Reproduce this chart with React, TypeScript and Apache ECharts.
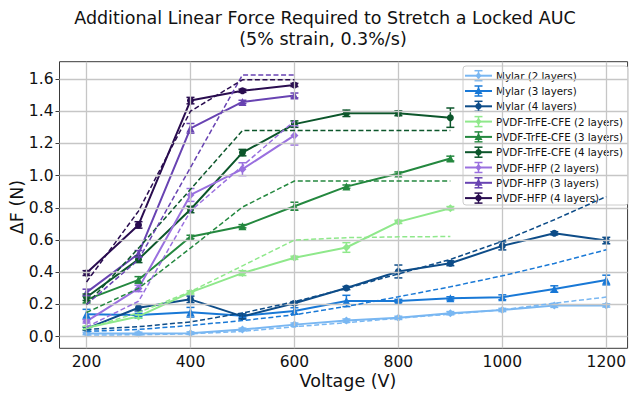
import React, { useEffect, useRef } from "react";
import * as echarts from "echarts";

const FONT = "DejaVu Sans";

const VOLTS_MYLAR = [200, 300, 400, 500, 600, 700, 800, 900, 1000, 1100, 1200];
const VOLTS_TRFE = [200, 300, 400, 500, 600, 700, 800, 900];
const VOLTS_HFP = [200, 300, 400, 500, 600];

const X_TICKS = [200, 400, 600, 800, 1000, 1200];
const Y_TICKS = [0, 0.2, 0.4, 0.6, 0.8, 1.0, 1.2, 1.4, 1.6];

// measured (solid) values, error bars, model (dashed) values
const MYLAR2 = [0.02, 0.02, 0.022, 0.045, 0.075, 0.1, 0.117, 0.146, 0.166, 0.194, 0.194];
const MYLAR2_ERR = [0.008, 0.008, 0.008, 0.008, 0.01, 0.01, 0.01, 0.01, 0.01, 0.012, 0.01];
const MYLAR2_MODEL = [0.01, 0.012, 0.018, 0.033, 0.062, 0.087, 0.115, 0.14, 0.167, 0.208, 0.246];

const MYLAR3 = [0.14, 0.135, 0.152, 0.13, 0.16, 0.222, 0.222, 0.238, 0.245, 0.296, 0.352];
const MYLAR3_ERR = [0.03, 0.01, 0.03, 0.01, 0.02, 0.035, 0.01, 0.01, 0.015, 0.02, 0.03];
const MYLAR3_MODEL = [0.033, 0.045, 0.07, 0.1, 0.136, 0.188, 0.248, 0.31, 0.378, 0.455, 0.54];

const MYLAR4 = [0.05, 0.18, 0.232, 0.126, 0.208, 0.302, 0.405, 0.456, 0.564, 0.642, 0.597];
const MYLAR4_ERR = [0.01, 0.02, 0.02, 0.015, 0.01, 0.01, 0.04, 0.015, 0.025, 0.01, 0.02];
const MYLAR4_MODEL = [0.045, 0.062, 0.092, 0.147, 0.217, 0.3, 0.39, 0.48, 0.592, 0.726, 0.87];

const TRFE2 = [0.055, 0.126, 0.275, 0.395, 0.49, 0.554, 0.713, 0.798];
const TRFE2_ERR = [0.01, 0.01, 0.01, 0.015, 0.01, 0.03, 0.01, 0.01];
const TRFE2_MODEL = [0.05, 0.15, 0.28, 0.44, 0.6, 0.615, 0.62, 0.622];

const TRFE3 = [0.23, 0.353, 0.62, 0.686, 0.81, 0.932, 1.013, 1.106];
const TRFE3_ERR = [0.02, 0.02, 0.01, 0.01, 0.025, 0.01, 0.01, 0.015];
const TRFE3_MODEL = [0.15, 0.3, 0.55, 0.805, 0.967, 0.967, 0.967, 0.967];

const TRFE4 = [0.245, 0.48, 0.79, 1.143, 1.32, 1.387, 1.387, 1.36];
const TRFE4_ERR = [0.02, 0.02, 0.02, 0.02, 0.02, 0.02, 0.015, 0.06];
const TRFE4_MODEL = [0.2, 0.55, 0.915, 1.28, 1.28, 1.28, 1.28, 1.28];

const HFP2 = [0.095, 0.3, 0.88, 1.04, 1.25];
const HFP2_ERR = [0.01, 0.02, 0.04, 0.04, 0.06];
const HFP2_MODEL = [0.06, 0.22, 0.78, 1.06, 1.34];

const HFP3 = [0.275, 0.515, 1.294, 1.458, 1.498];
const HFP3_ERR = [0.02, 0.02, 0.03, 0.01, 0.015];
const HFP3_MODEL = [0.2, 0.478, 1.05, 1.625, 1.625];

const HFP4 = [0.395, 0.694, 1.466, 1.527, 1.563];
const HFP4_ERR = [0.015, 0.02, 0.02, 0.01, 0.01];
const HFP4_MODEL = [0.34, 0.78, 1.4, 1.595, 1.595];

const NAMES = [
  "Mylar (2 layers)",
  "Mylar (3 layers)",
  "Mylar (4 layers)",
  "PVDF-TrFE-CFE (2 layers)",
  "PVDF-TrFE-CFE (3 layers)",
  "PVDF-TrFE-CFE (4 layers)",
  "PVDF-HFP (2 layers)",
  "PVDF-HFP (3 layers)",
  "PVDF-HFP (4 layers)",
];

const COLORS = [
  "#79b7f2",
  "#1878d6",
  "#0d4c88",
  "#8fe88b",
  "#24883f",
  "#0c562b",
  "#9a70df",
  "#6843b2",
  "#2a0d50",
];

const MARKERS = ["diamond", "triangle", "circle", "diamond", "triangle", "circle", "diamond", "triangle", "circle"];

const GROUPS = [
  { x: VOLTS_MYLAR, y: MYLAR2, e: MYLAR2_ERR, m: MYLAR2_MODEL },
  { x: VOLTS_MYLAR, y: MYLAR3, e: MYLAR3_ERR, m: MYLAR3_MODEL },
  { x: VOLTS_MYLAR, y: MYLAR4, e: MYLAR4_ERR, m: MYLAR4_MODEL },
  { x: VOLTS_TRFE, y: TRFE2, e: TRFE2_ERR, m: TRFE2_MODEL },
  { x: VOLTS_TRFE, y: TRFE3, e: TRFE3_ERR, m: TRFE3_MODEL },
  { x: VOLTS_TRFE, y: TRFE4, e: TRFE4_ERR, m: TRFE4_MODEL },
  { x: VOLTS_HFP, y: HFP2, e: HFP2_ERR, m: HFP2_MODEL },
  { x: VOLTS_HFP, y: HFP3, e: HFP3_ERR, m: HFP3_MODEL },
  { x: VOLTS_HFP, y: HFP4, e: HFP4_ERR, m: HFP4_MODEL },
];

function legendMarker(kind: string, cx: number, cy: number, color: string) {
  if (kind === "circle") return { type: "circle", shape: { cx, cy, r: 3.2 }, style: { fill: color } };
  if (kind === "triangle")
    return {
      type: "polygon",
      shape: { points: [[cx, cy - 4], [cx + 4, cy + 3], [cx - 4, cy + 3]] },
      style: { fill: color },
    };
  return {
    type: "polygon",
    shape: { points: [[cx, cy - 3.5], [cx + 3, cy], [cx, cy + 3.5], [cx - 3, cy]] },
    style: { fill: color },
  };
}

function buildOption() {
  const series: any[] = [];
  // grid lines through the axis scales
  series.push({
    type: "line",
    data: [],
    silent: true,
    z: 0,
    markLine: {
      silent: true,
      symbol: "none",
      animation: false,
      label: { show: false },
      lineStyle: { color: "#c6c6c6", width: 1.3, type: "solid" },
      data: [
        ...X_TICKS.map((v) => ({ xAxis: v })),
        ...Y_TICKS.map((v) => ({ yAxis: v })),
      ],
    },
  });
  GROUPS.forEach((g, i) => {
    const color = COLORS[i];
    series.push({
      name: NAMES[i],
      type: "line",
      data: g.x.map((v, k) => [v, g.y[k]]),
      symbol: MARKERS[i],
      symbolSize: MARKERS[i] === "circle" ? 7 : 8,
      showSymbol: true,
      itemStyle: { color },
      lineStyle: { color, width: 2 },
      z: 3,
    });
    series.push({
      type: "custom",
      name: NAMES[i] + " err",
      data: g.x.map((v, k) => [v, g.y[k], g.e[k]]),
      encode: { x: 0, y: 1 },
      z: 4,
      renderItem: (params: any, api: any) => {
        const x = api.value(0);
        const y = api.value(1);
        const e = api.value(2);
        const t = api.coord([x, y + e]);
        const b = api.coord([x, y - e]);
        const style = { stroke: color, lineWidth: 1.5 };
        return {
          type: "group",
          children: [
            { type: "line", shape: { x1: t[0], y1: t[1], x2: b[0], y2: b[1] }, style },
            { type: "line", shape: { x1: t[0] - 4, y1: t[1], x2: t[0] + 4, y2: t[1] }, style },
            { type: "line", shape: { x1: b[0] - 4, y1: b[1], x2: b[0] + 4, y2: b[1] }, style },
          ],
        };
      },
    });
    series.push({
      type: "line",
      name: NAMES[i] + " model",
      data: g.x.map((v, k) => [v, g.m[k]]),
      symbol: "none",
      showSymbol: false,
      lineStyle: { color, width: 1.5, type: [5, 2.6] },
      z: 5,
    });
  });

  const legendChildren: any[] = [
    {
      type: "rect",
      shape: { x: 463, y: 66, width: 165, height: 139, r: 3 },
      style: { fill: "rgba(255,255,255,0.8)", stroke: "#cccccc", lineWidth: 1 },
    },
  ];
  NAMES.forEach((n, i) => {
    const cy = 75.7 + i * 15.3;
    const c = COLORS[i];
    const st = { stroke: c, lineWidth: 1.5 };
    legendChildren.push({ type: "line", shape: { x1: 465, y1: cy, x2: 492, y2: cy }, style: { stroke: c, lineWidth: 2 } });
    legendChildren.push({ type: "line", shape: { x1: 478.5, y1: cy - 5, x2: 478.5, y2: cy + 5 }, style: st });
    legendChildren.push({ type: "line", shape: { x1: 474.5, y1: cy - 5, x2: 482.5, y2: cy - 5 }, style: st });
    legendChildren.push({ type: "line", shape: { x1: 474.5, y1: cy + 5, x2: 482.5, y2: cy + 5 }, style: st });
    legendChildren.push(legendMarker(MARKERS[i], 478.5, cy, c));
    legendChildren.push({
      type: "text",
      x: 496,
      y: cy,
      style: { text: n, fontFamily: FONT, fontSize: 10.3, fill: "#111", verticalAlign: "middle", align: "left" },
    });
  });

  const bigText = (text: string, x: number, y: number, extra: any = {}) => ({
    type: "text",
    x,
    y,
    ...extra,
    style: { text, fontFamily: FONT, fontSize: 17.5, fill: "#111", align: "center", verticalAlign: "middle" },
  });

  return {
    animation: false,
    backgroundColor: "#ffffff",
    grid: {
      left: 59.5,
      right: 1,
      top: 61.7,
      bottom: 45.7,
      show: true,
      borderColor: "#3a3a3a",
      borderWidth: 1,
      backgroundColor: "transparent",
      containLabel: false,
    },
    xAxis: {
      type: "value",
      min: 148,
      max: 1241,
      axisLine: { show: false },
      splitLine: { show: false },
      axisTick: { show: true, customValues: X_TICKS, length: 4, lineStyle: { color: "#3a3a3a" } },
      axisLabel: {
        customValues: X_TICKS,
        formatter: (v: number) => String(v),
        fontFamily: FONT,
        fontSize: 15.5,
        color: "#111",
        margin: 6,
      },
    },
    yAxis: {
      type: "value",
      min: -0.072,
      max: 1.7075,
      axisLine: { show: false },
      splitLine: { show: false },
      axisTick: { show: true, customValues: Y_TICKS, length: 4, lineStyle: { color: "#3a3a3a" } },
      axisLabel: {
        customValues: Y_TICKS,
        formatter: (v: number) => v.toFixed(1),
        fontFamily: FONT,
        fontSize: 15.5,
        color: "#111",
        margin: 6,
      },
    },
    graphic: [
      bigText("Additional Linear Force Required to Stretch a Locked AUC", 325, 18),
      bigText("(5% strain, 0.3%/s)", 323, 39),
      bigText("Voltage (V)", 348, 381),
      bigText("ΔF (N)", 17, 207, { rotation: Math.PI / 2 }),
      { type: "group", z: 100, children: legendChildren },
    ],
    series,
  };
}

export default function App() {
  const ref = useRef<HTMLDivElement>(null);
  useEffect(() => {
    if (!ref.current) return;
    const chart = echarts.init(ref.current, undefined, { renderer: "svg" });
    chart.setOption(buildOption() as any);
    return () => chart.dispose();
  }, []);
  return <div ref={ref} style={{ width: 629, height: 394, position: "absolute", left: 0, top: 0 }} />;
}
